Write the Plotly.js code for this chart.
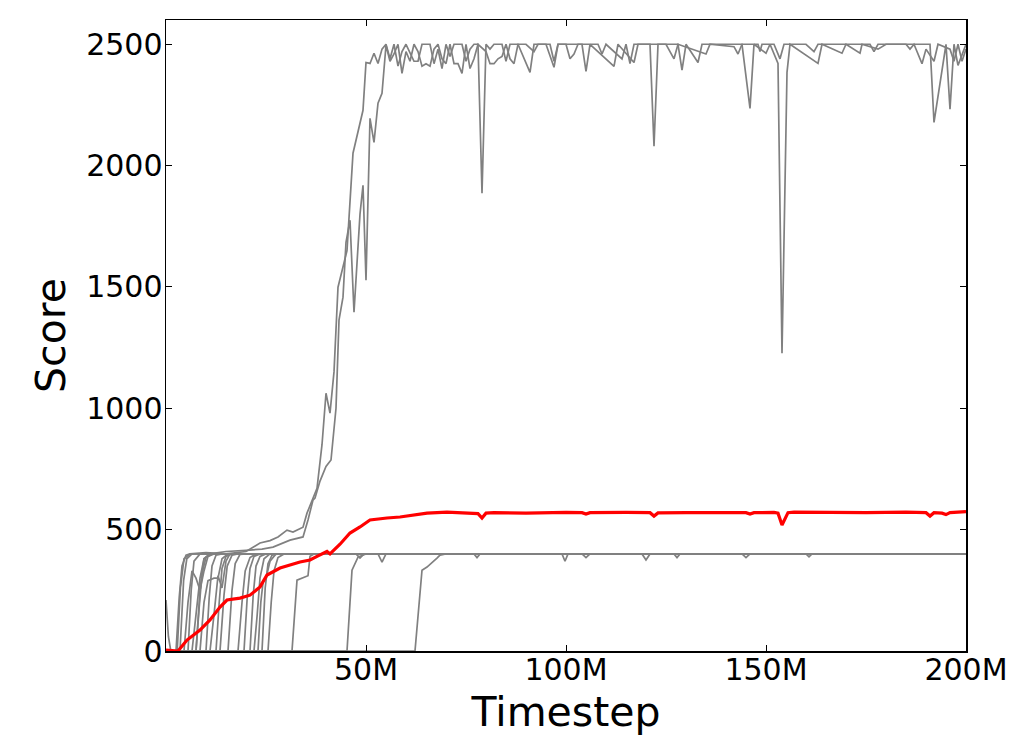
<!DOCTYPE html>
<html>
<head>
<meta charset="utf-8">
<script src="https://cdn.plot.ly/plotly-3.0.1.min.js"></script>
<style>html,body{margin:0;padding:0;background:#fff;}#chart{width:1015px;height:736px;}</style>
</head>
<body>
<div id="chart"></div>
<script>
// Timestep values are in millions (M)
const xTickVals = [50, 100, 150, 200];
const xTickText = ['50M', '100M', '150M', '200M'];
const yTickVals = [0, 500, 1000, 1500, 2000, 2500];
const yTickText = ['0', '500', '1000', '1500', '2000', '2500'];

// Two runs that reach ~2500
const runA_t = [0,2.8,3.6,4.5,6,10,15,20,23.5,26,28,30.25,31.75,34.25,35.25,36.5,37.75,39,40,41,42,43,44.5,45.25,46.75,48,49.25,50,51,52,53,54,55,56,57,58,59,60,62,63,64,66,67,68,69,70,71,72,74,75,76,77,78,79,80,81,82,84,85,86,88,91,92,95,97,98,104,105,106,112,113,117,118,121,122,123,128,129,130,133,134,144,146,147,150,151,153,154,155.25,156,163,164,169,170,173.5,174,178,180,191,192,195,196,197,198,200];
const runA_s = [0,0,260,380,400,405,400,410,445,455,470,498,490,510,568,622,670,850,1062,980,1150,1499,1600,1650,2051,2146,2228,2425,2421,2463,2421,2480,2500,2440,2500,2410,2470,2500,2430,2430,2500,2500,2420,2480,2400,2500,2450,2500,2500,2430,2480,2500,2500,1886,2500,2480,2500,2500,2430,2500,2500,2384,2500,2500,2405,2500,2500,2388,2500,2409,2500,2425,2500,2500,2080,2500,2500,2393,2500,2425,2500,2500,2236,2500,2463,2500,2421,1227,2384,2500,2421,2500,2463,2500,2463,2500,2480,2500,2500,2178,2500,2232,2500,2413,2500,2470];
const runB_t = [0,7.5,8.5,9.5,11,15,20,24,26.75,29,31,34.25,35.5,36.75,37.25,38.5,40,41.25,42.5,43.25,44.25,45,46,47,48.5,49.25,50,51,52,53,54,55,56,57,58,59,60,61,62,63,64,65,66,67,68,69,70,71,72,73,74,75,76,77,78,80,81,82,83,84,85,86,87,88,90,92,93,96,97,98,100,101,102,103,108,109,110,114,115,116,117,125,127,128,135,136,142,143,144,148,148.5,149,152,153.5,154.5,160,162,163,176,177,178,185,186,187,189,190,192,193,196,197,198,199,200];
const runB_s = [0,0,250,380,400,410,415,420,428,445,457,470,540,622,630,700,760,787,1000,1363,1458,1684,1775,1396,1800,1919,1528,2195,2096,2257,2298,2496,2430,2460,2500,2380,2470,2430,2500,2470,2410,2420,2410,2480,2500,2440,2420,2500,2420,2420,2380,2500,2400,2440,2500,2470,2420,2420,2440,2450,2500,2440,2420,2500,2500,2470,2500,2500,2430,2500,2500,2440,2460,2500,2500,2460,2500,2440,2500,2420,2500,2500,2440,2500,2460,2500,2490,2460,2500,2500,2470,2500,2500,2440,2500,2500,2470,2500,2500,2470,2500,2500,2480,2500,2420,2480,2430,2500,2480,2430,2500,2430,2480];

// Runs that settle near 400
const run01_t = [0,2.5,3.3,4,5,6,47.5,48.5,49.5,200];
const run01_s = [0,0,220,350,395,400,400,383,400,400];
const run02_t = [0,3.5,4.4,5.2,6.5,119,120,121,200];
const run02_s = [0,0,290,380,400,400,375,400,400];
const run03_t = [0,4.5,5.5,6.5,7.5,8.5,9.5,10.5,12,200];
const run03_s = [0,0,200,330,300,250,330,390,400,400];
const run04_t = [0,5.5,6.3,7,8.5,53,54,55,200];
const run04_s = [0,0,250,370,400,400,366,400,400];
const run05_t = [0,6.5,7.5,8.5,9.5,11,127,127.75,128.5,200];
const run05_s = [0,0,150,300,380,400,400,385,400,400];
const run06_t = [0,7.5,8.3,9,10,11.5,99,99.75,100.5,200];
const run06_s = [0,0,180,320,385,400,400,370,400,400];
const run07_t = [0,8.5,9.5,10.5,12,13,14,15.5,77,77.75,78.5,200];
const run07_s = [0,0,200,290,300,300,380,400,400,385,400,400];
const run08_t = [0,10,10.8,11.5,12.5,14,200];
const run08_s = [0,0,220,350,395,400,400];
const run09_t = [0,11,12,13,14,15,16,200];
const run09_s = [0,0,150,310,260,370,400,400];
const run10_t = [0,12.5,13.3,14,15,16.5,160,160.75,161.5,200];
const run10_s = [0,0,200,340,390,400,400,388,400,400];
const run11_t = [0,0.6,1.2,13.5,14.5,15.3,16.5,18,200];
const run11_s = [210,60,0,0,230,350,395,400,400];
const run12_t = [0,15.5,16.5,17.3,18.5,20,200];
const run12_s = [0,0,250,360,398,400,400];
const run13_t = [0,18,19,19.8,21,22.5,200];
const run13_s = [0,0,200,330,385,400,400];
const run14_t = [0,19.5,20.3,21,22,23.5,104,105,106,200];
const run14_s = [0,0,220,340,390,400,400,385,400,400];
const run15_t = [0,21,21.8,22.5,23.5,25,200];
const run15_s = [0,0,230,350,390,400,400];
const run16_t = [0,22,22.8,23.5,24.5,26,200];
const run16_s = [0,0,150,300,380,400,400];
const run17_t = [0,23,23.7,24.3,25,26,27.5,200];
const run17_s = [0,0,200,290,300,370,400,400];
const run18_t = [0,24,24.8,25.5,26.5,28,144,145,146,200];
const run18_s = [0,0,260,360,395,400,400,385,400,400];
const run19_t = [0,25.5,26.3,27,28,29.5,200];
const run19_s = [0,0,200,330,385,400,400];
const run20_t = [0,31.5,32.75,34,35.5,36,37,200];
const run20_s = [0,0,292,300,310,390,400,400];
const run21_t = [0,45.25,46.5,48,50,200];
const run21_s = [0,0,333,387,400,400];
const run22_t = [0,62.25,64,65.25,67.75,68.5,70,200];
const run22_s = [0,0,333,346,383,395,400,400];

// Mean score (red)
const mean_t = [0,3,5.25,8.5,11,13.5,15.25,18.5,21,23.5,25.25,28.5,33.5,36,38,39.25,40.25,41,43.5,46,48.5,51,53,55.25,58.5,62,65.25,70.25,73.5,77,78,79,80,82,90,100,104,105,106,115,121,122,123,130,140,145,146,147,152,153,154,155.5,157,165,175,185,190,191,192,194,195,196,198,200];
const mean_s = [4,0,45,86,128,181,210,218,230,264,313,342,367,375,392,403,410,400,440,486,511,540,545,548,552,560,568,572,570,568,566,548,568,570,568,571,570,564,570,571,570,556,569,570,572,570,564,570,571,568,519,570,572,571,570,572,570,556,570,568,562,570,572,574];

const grayRuns = [
  [runA_t, runA_s], [runB_t, runB_s],
  [run01_t, run01_s], [run02_t, run02_s], [run03_t, run03_s], [run04_t, run04_s],
  [run05_t, run05_s], [run06_t, run06_s], [run07_t, run07_s], [run08_t, run08_s],
  [run09_t, run09_s], [run10_t, run10_s], [run11_t, run11_s], [run12_t, run12_s],
  [run13_t, run13_s], [run14_t, run14_s], [run15_t, run15_s], [run16_t, run16_s],
  [run17_t, run17_s], [run18_t, run18_s], [run19_t, run19_s], [run20_t, run20_s],
  [run21_t, run21_s], [run22_t, run22_s]
];

const traces = grayRuns.map(r => ({
  x: r[0], y: r[1], type: 'scatter', mode: 'lines',
  line: {color: '#808080', width: 1.7}, hoverinfo: 'skip', showlegend: false
}));
traces.push({
  x: mean_t, y: mean_s, type: 'scatter', mode: 'lines',
  line: {color: '#ff0000', width: 3.2}, hoverinfo: 'skip', showlegend: false
});

const font = 'DejaVu Sans, sans-serif';
const axisCommon = {
  showgrid: false, zeroline: false, showline: true, linecolor: '#000', linewidth: 1.5,
  mirror: 'allticks', ticks: 'inside', ticklen: 6, tickwidth: 1, tickcolor: '#000',
  tickfont: {family: font, size: 30, color: '#000'}, automargin: false
};
const layout = {
  width: 1015, height: 736,
  margin: {l: 166, r: 49, t: 20, b: 85},
  paper_bgcolor: '#fff', plot_bgcolor: '#fff',
  showlegend: false,
  xaxis: Object.assign({}, axisCommon, {
    range: [0, 200], tickmode: 'array', tickvals: xTickVals, ticktext: xTickText,
    ticklabelstandoff: -9,
    title: {text: 'Timestep', font: {family: font, size: 41, color: '#000'}, standoff: 24}
  }),
  yaxis: Object.assign({}, axisCommon, {
    range: [0, 2600], tickmode: 'array', tickvals: yTickVals, ticktext: yTickText,
    ticklabelstandoff: -4,
    title: {text: 'Score', font: {family: font, size: 41, color: '#000'}, standoff: 8}
  })
};
Plotly.newPlot('chart', traces, layout, {staticPlot: true, displayModeBar: false});
</script>
</body>
</html>
